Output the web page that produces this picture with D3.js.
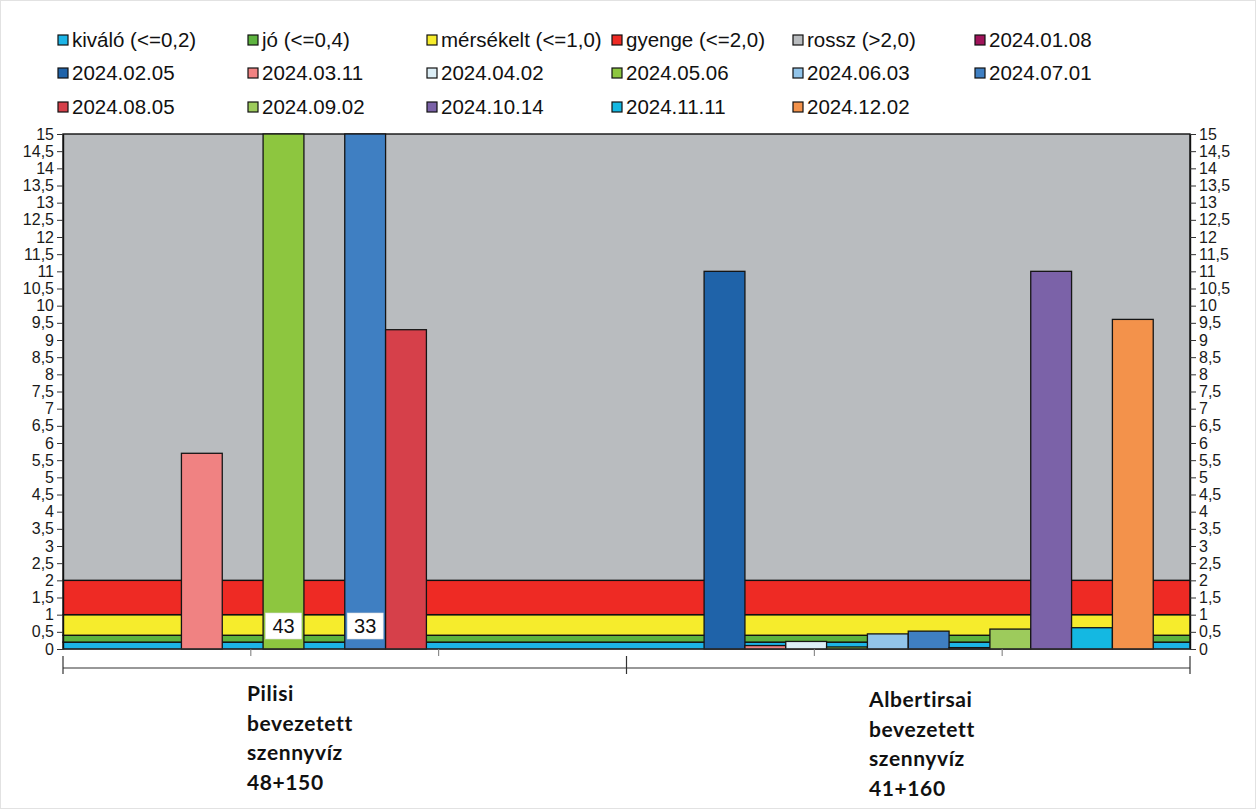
<!DOCTYPE html>
<html><head><meta charset="utf-8">
<script src="https://cdn.jsdelivr.net/npm/d3@7"></script>
<style>body{margin:0;background:#fff}svg{display:block}</style>
</head><body>
<svg id="c" width="1256" height="809"></svg>
<script>
// ---------- data ----------
const groups = ["Pilisi bevezetett szennyvíz 48+150", "Albertirsai bevezetett szennyvíz 41+160"];
const groupLines = [["Pilisi", "bevezetett", "szennyvíz", "48+150"], ["Albertirsai", "bevezetett", "szennyvíz", "41+160"]];
const dates = ["2024.01.08", "2024.02.05", "2024.03.11", "2024.04.02", "2024.05.06", "2024.06.03",
               "2024.07.01", "2024.08.05", "2024.09.02", "2024.10.14", "2024.11.11", "2024.12.02"];
const dateColors = ["#A0145A", "#1F63A9", "#F08282", "#DCEEF6", "#8DC63F", "#92C4E9",
                    "#3F7FC2", "#D6404A", "#9DCB5C", "#7B62A8", "#14B8E2", "#F3924B"];
const pilisiValues = [null, null, 5.7, null, 43, null, 33, 9.3, null, null, null, null];
const albertirsaiValues = [null, 11, 0.1, 0.22, 0.06, 0.44, 0.52, 0.04, 0.58, 11, 0.62, 9.6];
const bandNames = ["kiváló (<=0,2)", "jó (<=0,4)", "mérsékelt (<=1,0)", "gyenge (<=2,0)", "rossz (>2,0)"];
const bandLimits = [0.2, 0.4, 1.0, 2.0, 15];
const bandColors = ["#1CB4E6", "#5DB33F", "#F6EC2C", "#EE2A24", "#B9BCBF"];
const yTickValues = [0, 0.5, 1, 1.5, 2, 2.5, 3, 3.5, 4, 4.5, 5, 5.5, 6, 6.5, 7, 7.5,
                     8, 8.5, 9, 9.5, 10, 10.5, 11, 11.5, 12, 12.5, 13, 13.5, 14, 14.5, 15];
const seriesByGroup = [pilisiValues, albertirsaiValues];

// ---------- layout ----------
const L = 63, R = 1190, T = 134, B = 649;
const yMax = 15;
const svg = d3.select("#c");
const y = d3.scaleLinear().domain([0, yMax]).range([B, T]);
const x0 = d3.scaleBand().domain(groups).range([L, R]).paddingInner(0.1305).paddingOuter(0.06525);
const x1 = d3.scaleBand().domain(dates).range([0, x0.bandwidth()]);
const colorOf = d3.scaleOrdinal().domain(dates).range(dateColors);
const fmt = d => String(d).replace(".", ",");

svg.append("rect").attr("x", 0.5).attr("y", 0.5).attr("width", 1255).attr("height", 808)
  .attr("fill", "#fff").attr("stroke", "#e2e2e2");

// bands
const bands = bandNames.map((n, i) => ({name: n, lo: i ? bandLimits[i - 1] : 0, hi: bandLimits[i], color: bandColors[i]}));
svg.append("g").selectAll("rect").data(bands).join("rect")
  .attr("x", L).attr("width", R - L)
  .attr("y", d => y(d.hi)).attr("height", d => y(d.lo) - y(d.hi))
  .attr("fill", d => d.color).attr("stroke", "#111").attr("stroke-width", 1.4);

// bars
const barData = [];
groups.forEach((g, gi) => seriesByGroup[gi].forEach((v, di) => {
  if (v !== null) barData.push({g, date: dates[di], v});
}));
svg.append("g").selectAll("rect").data(barData).join("rect")
  .attr("x", d => x0(d.g) + x1(d.date)).attr("width", x1.bandwidth())
  .attr("y", d => y(Math.min(d.v, yMax))).attr("height", d => B - y(Math.min(d.v, yMax)))
  .attr("fill", d => colorOf(d.date)).attr("stroke", "#151515").attr("stroke-width", 1.3);

// labels for clipped bars
const clipped = barData.filter(d => d.v > yMax);
const lab = svg.append("g").selectAll("g").data(clipped).join("g")
  .attr("transform", d => `translate(${x0(d.g) + x1(d.date) + x1.bandwidth() / 2},${B - 23})`);
lab.append("rect").attr("x", -18).attr("y", -13).attr("width", 36).attr("height", 26)
  .attr("fill", "#fff").attr("stroke", "#ddd").attr("stroke-width", 0.6);
lab.append("text").attr("text-anchor", "middle").attr("dy", "0.36em")
  .attr("font-family", "Liberation Sans, Arial, sans-serif").attr("font-size", 20)
  .attr("fill", "#111").text(d => d.v);

// y axes
const styleAxis = g => {
  g.selectAll("path.domain").attr("stroke", "#111").attr("stroke-width", 1.4);
  g.selectAll(".tick line").attr("stroke", "#333");
  g.selectAll("text").attr("font-family", "Liberation Sans, Arial, sans-serif").attr("font-size", 16).attr("fill", "#1a1a1a");
};
svg.append("g").attr("transform", `translate(${L},0)`)
  .call(d3.axisLeft(y).tickValues(yTickValues).tickFormat(fmt).tickSize(6).tickSizeOuter(0).tickPadding(3))
  .call(styleAxis);
svg.append("g").attr("transform", `translate(${R},0)`)
  .call(d3.axisRight(y).tickValues(yTickValues).tickFormat(fmt).tickSize(6).tickSizeOuter(0).tickPadding(3))
  .call(styleAxis);

// x axis
const xa = svg.append("g");
xa.append("line").attr("x1", L).attr("x2", R).attr("y1", B).attr("y2", B).attr("stroke", "#333").attr("stroke-width", 1.2);
groups.forEach(g => {
  const start = x0(g) - x0.step() * x0.paddingOuter();
  [1, 2].forEach(k => {
    const xx = start + k * x0.step() / 3;
    xa.append("line").attr("x1", xx).attr("x2", xx).attr("y1", B).attr("y2", B + 7).attr("stroke", "#777");
  });
});
const lowY = 668;
xa.append("line").attr("x1", L).attr("x2", R).attr("y1", lowY).attr("y2", lowY).attr("stroke", "#333").attr("stroke-width", 1.2);
const bounds = [L].concat(groups.map(g => x0(g) - x0.step() * x0.paddingOuter() + x0.step()));
bounds.forEach(xx => xa.append("line").attr("x1", xx).attr("x2", xx).attr("y1", 656).attr("y2", 674).attr("stroke", "#333").attr("stroke-width", 1.2));

// group labels
const glab = svg.append("g").selectAll("text").data(groups).join("text")
  .attr("x", (d, i) => i === 0 ? 247 : 869)
  .attr("y", (d, i) => i === 0 ? 701 : 707)
  .attr("font-family", "Lato, sans-serif").attr("font-weight", 700).attr("font-size", 21)
  .attr("letter-spacing", 0.6).attr("fill", "#111");
glab.each(function(d, i) {
  d3.select(this).selectAll("tspan").data(groupLines[i]).join("tspan")
    .attr("x", i === 0 ? 247 : 869).attr("dy", (t, j) => j ? 29.5 : 0).text(t => t);
});

// legend
const legendItems = bandNames.map((n, i) => ({name: n, color: bandColors[i]}))
  .concat(dates.map((dd, i) => ({name: dd, color: dateColors[i]})));
const colX = [58, 248, 427, 612, 793, 975];
const rowY = [40, 73, 107];
const lg = svg.append("g").selectAll("g").data(legendItems).join("g")
  .attr("transform", (d, i) => `translate(${colX[i % 6]},${rowY[Math.floor(i / 6)]})`);
lg.append("rect").attr("x", 0).attr("y", -5).attr("width", 10).attr("height", 10)
  .attr("fill", d => d.color).attr("stroke", "#111").attr("stroke-width", 1.2);
lg.append("text").attr("x", 14).attr("dy", "0.36em")
  .attr("font-family", "Liberation Sans, Arial, sans-serif").attr("font-size", 20.5).attr("fill", "#111")
  .text(d => d.name);
</script>
</body></html>
